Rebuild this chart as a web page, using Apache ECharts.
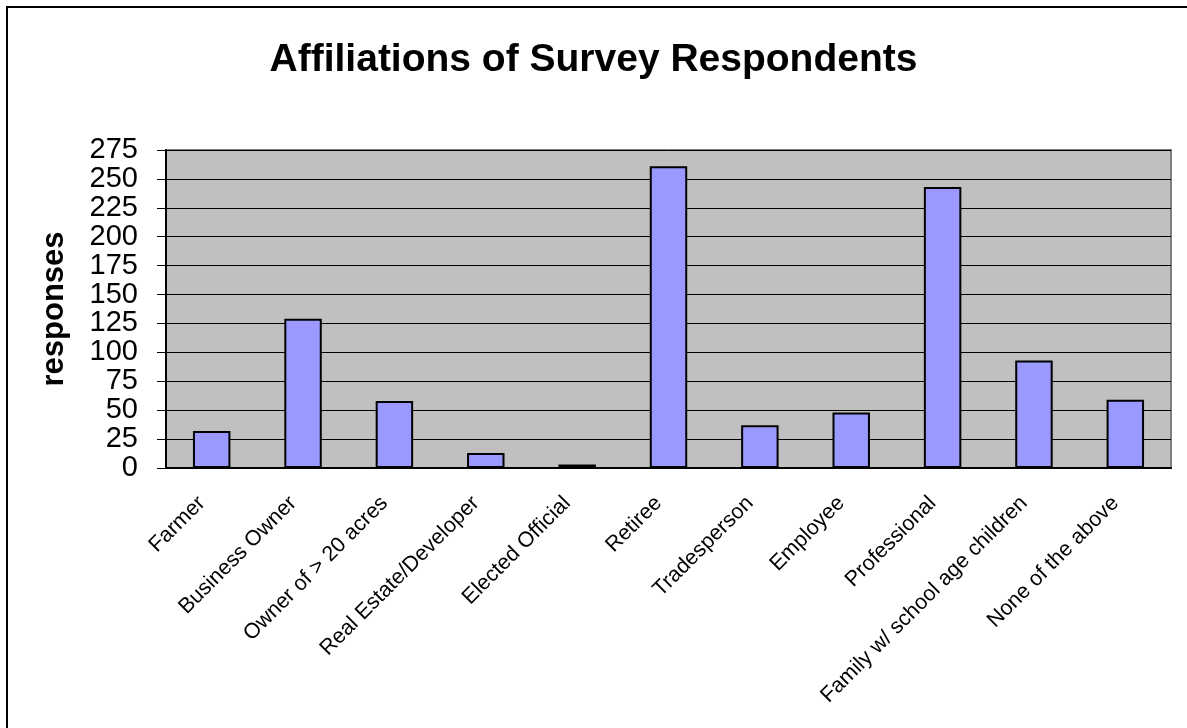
<!DOCTYPE html>
<html>
<head>
<meta charset="utf-8">
<title>Affiliations of Survey Respondents</title>
<script src="https://cdn.jsdelivr.net/npm/echarts@6/dist/echarts.min.js"></script>
<style>
    html, body { margin: 0; padding: 0; background: #fff; }
    #chart { width: 1187px; height: 728px; }
</style>
</head>
<body>
<div id="chart"></div>
<script>
// data
var categories = [
    "Farmer", "Business Owner", "Owner of > 20 acres", "Real Estate/Developer",
    "Elected Official", "Retiree", "Tradesperson", "Employee", "Professional",
    "Family w/ school age children", "None of the above"
];
var responses = [32, 129, 58, 13, 3, 261, 37, 48, 243, 93, 59];
var yTicks = { min: 0, max: 275, interval: 25 };

var fontName = "Liberation Sans, Arial, sans-serif";
var chart = echarts.init(document.getElementById("chart"), null, { renderer: "canvas" });

var option = {
    backgroundColor: "#ffffff",
    animation: false,
    title: {
        text: "Affiliations of Survey Respondents",
        left: "center",
        top: 36,
        textStyle: { fontFamily: fontName, fontSize: 39, fontWeight: "bold", color: "#000" }
    },
    graphic: [
        {   // outer frame of the chart (right/bottom edges fall outside)
            type: "rect",
            shape: { x: 7, y: 7, width: 1200, height: 800 },
            style: { fill: null, stroke: "#000", lineWidth: 2 },
            silent: true
        }
    ],
    grid: {
        left: 166, right: 16, top: 150, bottom: 260,
        show: true,
        backgroundColor: "#c0c0c0",
        borderColor: "#808080",
        borderWidth: 2
    },
    xAxis: {
        type: "category",
        data: categories,
        axisLine: { lineStyle: { color: "#000", width: 2 } },
        axisTick: { alignWithLabel: false, length: 7, lineStyle: { color: "#000" } },
        axisLabel: {
            rotate: 45,
            interval: 0,
            margin: 22,
            padding: [0, 14, 0, 0],
            fontFamily: fontName,
            fontSize: 21.5,
            color: "#000"
        }
    },
    yAxis: {
        type: "value",
        min: yTicks.min,
        max: yTicks.max,
        interval: yTicks.interval,
        name: "responses",
        nameLocation: "middle",
        nameGap: 96,
        nameTextStyle: { fontFamily: fontName, fontSize: 31, fontWeight: "bold", color: "#000" },
        axisLine: { show: true, lineStyle: { color: "#000", width: 2 } },
        axisTick: { show: true, length: 9, lineStyle: { color: "#000" } },
        axisLabel: {
            margin: 28,
            showMinLabel: true,
            showMaxLabel: true,
            hideOverlap: false,
            fontFamily: fontName,
            fontSize: 29,
            lineHeight: 29,
            color: "#000"
        },
        splitLine: { show: true, lineStyle: { color: "#000", width: 1 } }
    },
    series: [
        {
            type: "bar",
            data: responses,
            barCategoryGap: "59%",
            itemStyle: { color: "#9999ff", borderColor: "#000", borderWidth: 2 }
        }
    ]
};
chart.setOption(option);
</script>
</body>
</html>
